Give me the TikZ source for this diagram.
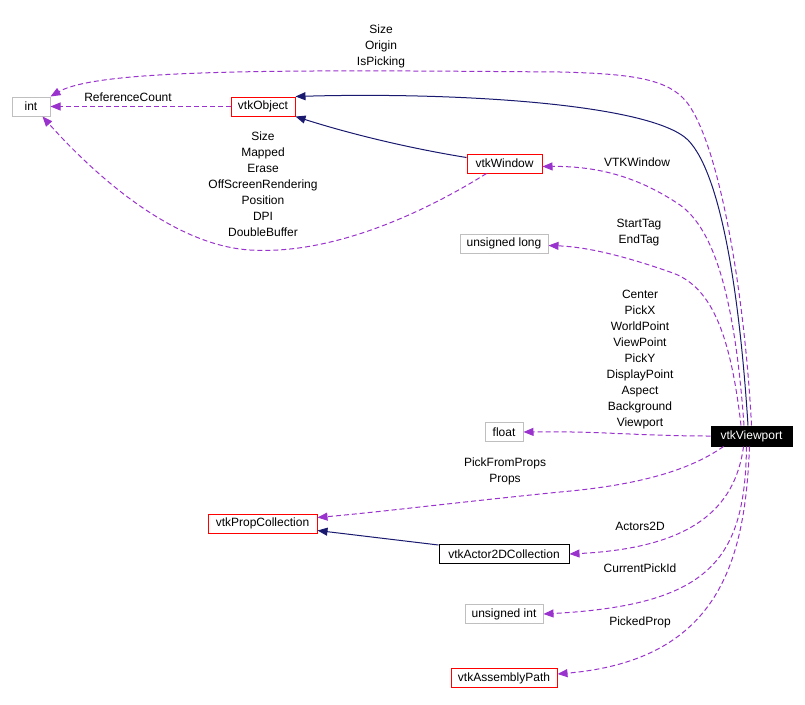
\documentclass[tikz,border=0pt]{standalone}
\usepackage{fontspec}
\setmainfont{Liberation Sans}
\usetikzlibrary{arrows.meta, calc}
\definecolor{usecol}{RGB}{154,50,205}
\definecolor{inhcol}{RGB}{25,25,112}
\definecolor{boxgray}{RGB}{191,191,191}
\tikzset{
  classbox/.style={rectangle, draw=black, line width=1pt, inner sep=0pt, minimum height=19pt, font=\fontsize{12}{16}\selectfont},
  docbox/.style={classbox, draw=red},
  plainbox/.style={classbox, draw=boxgray},
  mainbox/.style={classbox, fill=black, text=white, minimum height=20pt},
  lbl/.style={align=center, inner sep=0pt, font=\fontsize{12}{16}\selectfont},
  uses/.style={line width=1pt, usecol, dash pattern=on 5pt off 3pt, -{Triangle[length=10pt,width=8pt]}},
  inherit/.style={line width=1pt, inhcol, -{Triangle[length=10pt,width=8pt]}}
}

\begin{document}
\begin{tikzpicture}[x=1pt, y=-1pt]
  \useasboundingbox (0,0) rectangle (805,704);

  % --- Klassen ---
  \node (int) [plainbox, minimum width=38pt] at (31,106.5) {int};
  \node (obj) [docbox, minimum width=64pt] at (263,106.5) {vtkObject};
  \node (win) [docbox, minimum width=75pt] at (504.5,163.5) {vtkWindow};
  \node (ulong) [plainbox, minimum width=88pt] at (504,243.5) {unsigned long};
  \node (float) [plainbox, minimum width=38pt] at (504,432) {float};
  \node (vp) [mainbox, minimum width=81pt] at (751.5,436) {vtkViewport};
  \node (propc) [docbox, minimum width=109pt] at (262.5,523.5) {vtkPropCollection};
  \node (act) [classbox, minimum width=130pt] at (504,554) {vtkActor2DCollection};
  \node (uint) [plainbox, minimum width=78pt] at (504,614) {unsigned int};
  \node (asm) [docbox, minimum width=106pt] at (504,678) {vtkAssemblyPath};

  % --- Vererbung ---
  \draw [inherit] ([xshift=-3.5pt]vp.north) .. controls (740,300) and (722,175) .. (688,140)
        .. controls (650,103) and (450,92) .. (obj.north east);
  \draw [inherit] ([yshift=6pt]win.west) .. controls (420,150) and (360,137) .. (obj.south east);
  \draw [inherit] ([yshift=-1pt]act.north west) -- ([yshift=-7pt]propc.east);

  % --- Member-Beziehungen ---
  \draw [uses] (vp.north) .. controls (745,300) and (722,160) .. (692,110)
        .. controls (675,80) and (640,74) .. (560,72)
        .. controls (300,70) and (100,68) .. (int.north east);
  \node (lsize) [lbl] at (381,46) {Size\\Origin\\IsPicking};

  \draw [uses] (obj.west) -- (int.east);
  \node (lref) [lbl] at (128,97) {ReferenceCount};

  \draw [uses] ([xshift=20pt]win.south west) .. controls (420,215) and (330,255) .. (250,250)
        .. controls (170,245) and (90,170) .. ([xshift=-8pt]int.south east);
  \node (lwin) [lbl] at (263,184) {Size\\Mapped\\Erase\\OffScreenRendering\\Position\\DPI\\DoubleBuffer};

  \draw [uses] ([xshift=-7.5pt]vp.north) .. controls (735,300) and (715,230) .. (680,205)
        .. controls (640,178) and (600,166) .. ([yshift=-3pt]win.east);
  \node (lvtkw) [lbl] at (637,162) {VTKWindow};

  \draw [uses] ([xshift=-10.5pt]vp.north) .. controls (730,330) and (710,285) .. (670,272)
        .. controls (630,258) and (590,247) .. ([yshift=-2pt]ulong.east);
  \node (ltag) [lbl] at (639,233) {StartTag\\EndTag};

  \draw [uses] (vp.west) .. controls (640,436) and (600,431) .. (float.east);
  \node (lfloat) [lbl] at (640,360) {Center\\PickX\\WorldPoint\\ViewPoint\\PickY\\DisplayPoint\\Aspect\\Background\\Viewport};

  \draw [uses] ([xshift=13pt]vp.south west) .. controls (690,470) and (640,485) .. (560,492)
        .. controls (460,502) and (380,512) .. ([yshift=6pt]propc.east);
  \node (lprops) [lbl] at (505,471) {PickFromProps\\Props};

  \draw [uses] ([xshift=-8pt]vp.south) .. controls (735,510) and (690,548) .. (act.east);
  \node (lact) [lbl] at (640,526) {Actors2D};

  \draw [uses] ([xshift=-5pt]vp.south) .. controls (745,560) and (710,605) .. (uint.east);
  \node (lpick) [lbl] at (640,568) {CurrentPickId};

  \draw [uses] ([xshift=-2pt]vp.south) .. controls (745,560) and (720,660) .. ([yshift=4pt]asm.east);
  \node (lprop) [lbl] at (640,622) {PickedProp};

\end{tikzpicture}
\end{document}
